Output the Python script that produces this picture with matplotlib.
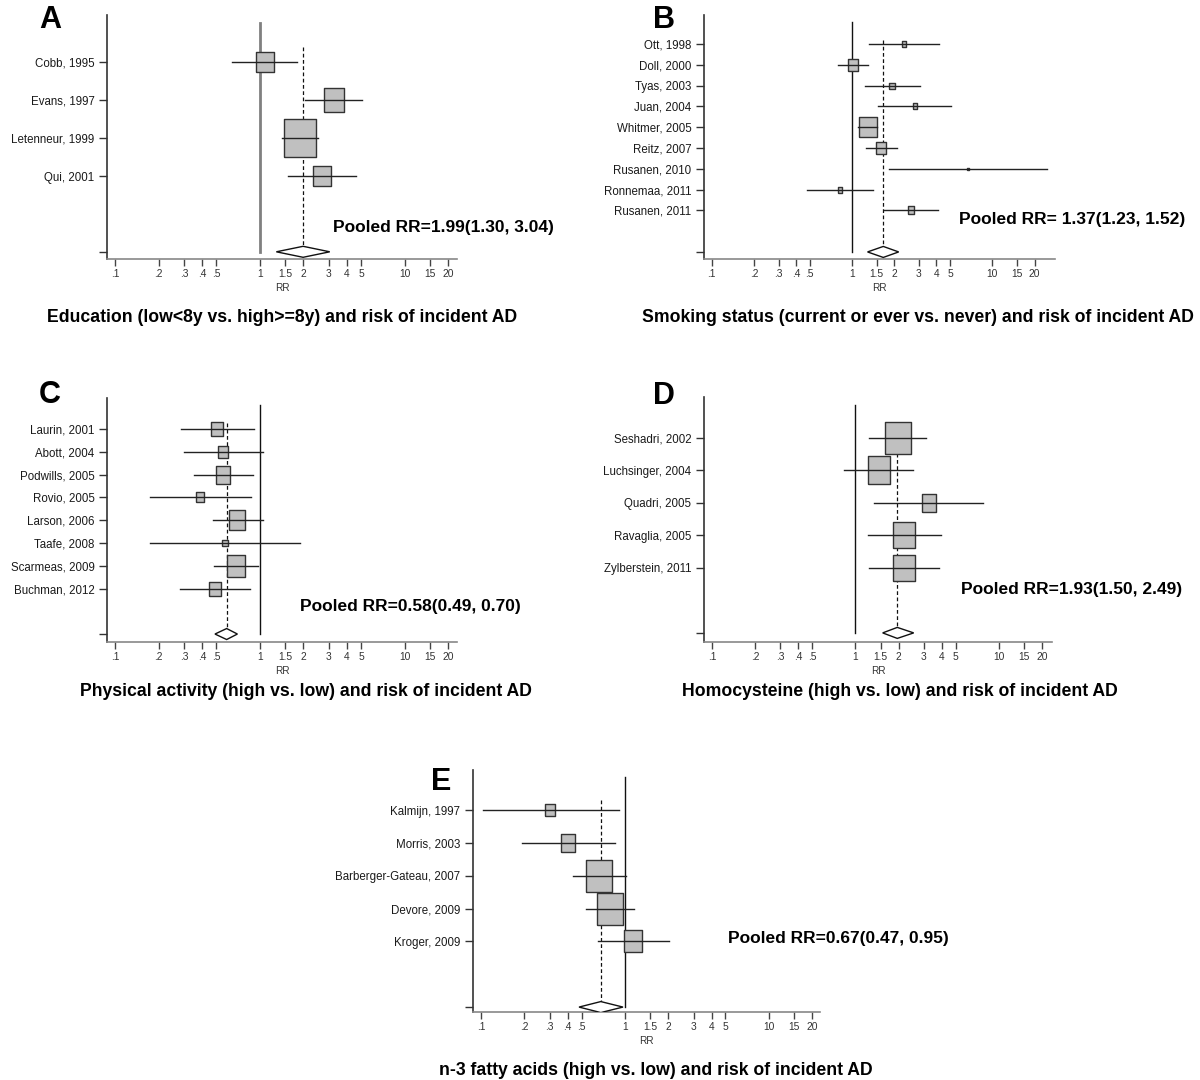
import numpy as np
import matplotlib
matplotlib.use('Agg')
import matplotlib.pyplot as plt
from matplotlib.patches import Polygon
from matplotlib.ticker import NullLocator

plt.rcParams['font.family'] = ['Liberation Sans', 'DejaVu Sans']
NARROW = ['Liberation Sans Narrow', 'Liberation Sans', 'DejaVu Sans']

# x axis ticks (shared by all panels)
rr_ticks = [0.1, 0.2, 0.3, 0.4, 0.5, 1, 1.5, 2, 3, 4, 5, 10, 15, 20]
rr_tick_labels = ['.1', '.2', '.3', '.4', '.5', '1', '1.5', '2', '3', '4', '5', '10', '15', '20']

# A - education
edu_studies = ['Cobb, 1995', 'Evans, 1997', 'Letenneur, 1999', 'Qui, 2001']
edu_rr = [1.08, 3.25, 1.90, 2.68]
edu_lo = [0.64, 2.06, 1.43, 1.57]
edu_hi = [1.80, 5.06, 2.53, 4.59]
edu_wt = [14.8, 21.0, 49.4, 14.8]
edu_pooled = [1.99, 1.30, 3.04]
edu_text = 'Pooled RR=1.99(1.30, 3.04)'
edu_title = 'Education (low<8y vs. high>=8y) and risk of incident AD'

# B - smoking
smk_studies = ['Ott, 1998', 'Doll, 2000', 'Tyas, 2003', 'Juan, 2004', 'Whitmer, 2005',
               'Reitz, 2007', 'Rusanen, 2010', 'Ronnemaa, 2011', 'Rusanen, 2011']
smk_rr = [2.36, 1.01, 1.94, 2.80, 1.29, 1.62, 6.76, 0.82, 2.64]
smk_lo = [1.33, 0.80, 1.23, 1.53, 1.11, 1.25, 1.84, 0.475, 1.69]
smk_hi = [4.19, 1.29, 3.07, 5.09, 1.50, 2.08, 24.6, 1.42, 4.13]
smk_wt = [3.3, 17.4, 4.6, 3.3, 45.4, 16.6, 0.7, 3.3, 5.5]
smk_pooled = [1.67, 1.29, 2.15]
smk_text = 'Pooled RR= 1.37(1.23, 1.52)'
smk_title = 'Smoking status (current or ever vs. never) and risk of incident AD'

# C - physical activity
pa_studies = ['Laurin, 2001', 'Abott, 2004', 'Podwills, 2005', 'Rovio, 2005',
              'Larson, 2006', 'Taafe, 2008', 'Scarmeas, 2009', 'Buchman, 2012']
pa_rr = [0.51, 0.56, 0.56, 0.387, 0.70, 0.574, 0.688, 0.49]
pa_lo = [0.285, 0.30, 0.35, 0.175, 0.475, 0.174, 0.48, 0.28]
pa_hi = [0.91, 1.05, 0.90, 0.865, 1.05, 1.89, 0.97, 0.86]
pa_wt = [196, 161, 299, 114, 400, 49, 529, 204]
pa_pooled = [0.59, 0.49, 0.70]
pa_text = 'Pooled RR=0.58(0.49, 0.70)'
pa_title = 'Physical activity (high vs. low) and risk of incident AD'

# D - homocysteine
hcy_studies = ['Seshadri, 2002', 'Luchsinger, 2004', 'Quadri, 2005', 'Ravaglia, 2005', 'Zylberstein, 2011']
hcy_rr = [1.99, 1.45, 3.24, 2.19, 2.18]
hcy_lo = [1.25, 0.83, 1.34, 1.23, 1.25]
hcy_hi = [3.12, 2.54, 7.74, 3.93, 3.84]
hcy_wt = [1109, 824, 335, 713, 745]
hcy_pooled = [1.96, 1.55, 2.55]
hcy_text = 'Pooled RR=1.93(1.50, 2.49)'
hcy_title = 'Homocysteine (high vs. low) and risk of incident AD'

# E - n-3 fatty acids
n3_studies = ['Kalmijn, 1997', 'Morris, 2003', 'Barberger-Gateau, 2007', 'Devore, 2009', 'Kroger, 2009']
n3_rr = [0.303, 0.405, 0.662, 0.79, 1.135]
n3_lo = [0.1025, 0.194, 0.436, 0.535, 0.65]
n3_hi = [0.908, 0.86, 1.01, 1.16, 2.01]
n3_wt = [144, 299, 1005, 1069, 515]
n3_pooled = [0.68, 0.48, 0.97]
n3_text = 'Pooled RR=0.67(0.47, 0.95)'
n3_title = 'n-3 fatty acids (high vs. low) and risk of incident AD'

W, H = 1200, 1080
fig = plt.figure(figsize=(12, 10.8), dpi=100)

BOX = [(-0.82, -1), (0.82, -1), (0.82, 1), (-0.82, 1), (-0.82, -1)]


def px_axes(x0, y0, x1, y1):
    return fig.add_axes([x0 / W, 1 - y1 / H, (x1 - x0) / W, (y1 - y0) / H])


def ftext(x, y, s, **kw):
    fig.text(x / W, 1 - y / H, s, **kw)


def forest(ax, studies, rr, lo, hi, wt, pooled, xmax, top_pad, bot_pad, dash_off,
           null_color='#111111', null_lw=1.0):
    n = len(studies)
    rows = np.arange(1, n + 1)
    prow = n + 2
    ax.set_xscale('log')
    ax.set_xlim(0.088, xmax)
    ax.set_ylim(prow + bot_pad, -top_pad)
    row_px = ax.get_position().height * H / (prow + bot_pad + top_pad)
    row_pt = row_px * 72 / 100

    # reference line at 1 and dashed line at pooled estimate
    ytop = -top_pad + 7.5 / row_px
    ax.plot([1, 1], [ytop, prow], color=null_color, lw=null_lw, zorder=1)
    ax.plot([pooled[0]] * 2, [1 - dash_off, prow], color='#111111', lw=0.9,
            ls=(0, (3, 2)), zorder=1)

    wmax = max(wt)
    for i in range(n):
        ms = row_pt * np.sqrt(wt[i] / wmax)
        ax.plot(rr[i], rows[i], marker=BOX, ms=ms, mfc='#c0c0c0', mec='#333333',
                mew=1.0, ls='none', zorder=2)
        ax.plot([lo[i], hi[i]], [rows[i]] * 2, color='#222222', lw=1.0, zorder=3)

    dh = 5.5 / row_px
    est, plo, phi = pooled
    ax.add_patch(Polygon([[plo, prow], [est, prow - dh], [phi, prow], [est, prow + dh]],
                         closed=True, fc='white', ec='#111111', lw=1.0, zorder=3))

    ax.set_xticks(rr_ticks)
    ax.set_xticklabels(rr_tick_labels)
    ax.xaxis.set_minor_locator(NullLocator())
    ax.set_yticks(list(rows) + [prow])
    ax.set_yticklabels(studies + [''])
    ax.tick_params(axis='x', direction='out', length=5, width=1, color='#444444',
                   labelsize=7.4, labelcolor='#333333', pad=2)
    ax.tick_params(axis='y', direction='out', length=6, width=1, color='#333333',
                   labelsize=8.3, labelcolor='#1a1a1a', pad=3)
    ax.set_xlabel('RR', fontsize=7.2, color='#333333', labelpad=3)
    for s in ['top', 'right']:
        ax.spines[s].set_visible(False)
    ax.spines['left'].set_color('#333333')
    ax.spines['left'].set_linewidth(1.2)
    ax.spines['bottom'].set_color('#888888')
    ax.spines['bottom'].set_linewidth(1.2)


axA = px_axes(107, 15, 457, 259)
forest(axA, edu_studies, edu_rr, edu_lo, edu_hi, edu_wt, edu_pooled, 23, 0.25, 0.19, 0.4,
       null_color='#808080', null_lw=2.0)
axB = px_axes(704, 15, 1055, 259)
forest(axB, smk_studies, smk_rr, smk_lo, smk_hi, smk_wt, smk_pooled, 28, 0.4, 0.34, 0.2)
axC = px_axes(107, 398, 457, 642)
forest(axC, pa_studies, pa_rr, pa_lo, pa_hi, pa_wt, pa_pooled, 23, 0.37, 0.35, 0.27)
axD = px_axes(704, 397, 1052, 642)
forest(axD, hcy_studies, hcy_rr, hcy_lo, hcy_hi, hcy_wt, hcy_pooled, 23.5, 0.26, 0.28, 0.5)
axE = px_axes(473, 770, 820, 1012)
forest(axE, n3_studies, n3_rr, n3_lo, n3_hi, n3_wt, n3_pooled, 22.7, 0.22, 0.15, 0.3)

# panel letters
for lx, ly, letter in [(39, 28, 'A'), (653, 28, 'B'), (39, 403, 'C'), (653, 404, 'D'), (431, 790, 'E')]:
    ftext(lx, ly, letter, fontsize=22, fontweight='bold', va='baseline', ha='left')

# pooled estimates
for px, py, s in [(333, 232, edu_text), (959, 224, smk_text), (300, 611, pa_text),
                  (961, 594, hcy_text), (728, 943, n3_text)]:
    ftext(px, py, s, fontsize=12.5, fontweight='bold', va='baseline', ha='left', family=NARROW)

# panel titles
for tx, ty, s in [(282, 322, edu_title), (918, 322, smk_title), (306, 696, pa_title),
                  (900, 696, hcy_title), (656, 1075, n3_title)]:
    ftext(tx, ty, s, fontsize=12.7, fontweight='bold', va='baseline', ha='center', family=NARROW)

fig.savefig('out.png', dpi=100, facecolor='white')
